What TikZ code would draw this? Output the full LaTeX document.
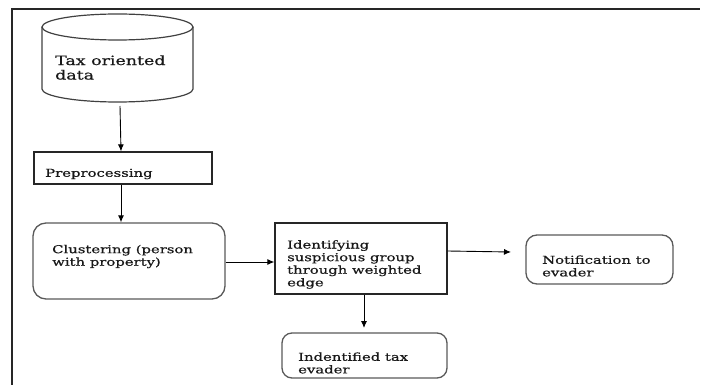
\documentclass[tikz,border=0pt]{standalone}
\usepackage{fontspec}
\setmainfont{DejaVu Serif}[FakeStretch=1.36,FakeBold=0.7]
\usetikzlibrary{arrows.meta}
\begin{document}
\begin{tikzpicture}[x=1pt,y=-1pt,
  box/.style={draw=black!85,line width=1.3pt,minimum width=#1,inner sep=0pt},
  rbox/.style={draw=black!65,line width=1.3pt,rounded corners=11pt,inner sep=0pt},
  txt/.style={inner sep=0pt,anchor=west,align=left,text=black!90,font=\fontsize{10.9}{12.6}\selectfont},
  arr/.style={line width=0.9pt,-{Latex[length=7pt,width=6pt]}}]
\useasboundingbox (0,0) rectangle (710,385);
% frame
\draw[line width=1.4pt,black!85] (12,385) -- (12,9) -- (700,9);
% cylinder
\node[minimum width=151pt,minimum height=88pt,inner sep=0pt] (cyl) at (117.5,58) {};
\draw[line width=1.2pt,black!75] (117.5,27) ellipse [x radius=75.5,y radius=13];
\draw[line width=1.2pt,black!75] (42,27) -- (42,89) arc[start angle=180,end angle=360,x radius=75.5,y radius=-13] -- (193,27);
\node[txt,font=\fontsize{12.8}{14.5}\selectfont] (t0) at (55,67.5) {Tax oriented\\data};
\coordinate (c0) at (120,106);
% boxes
\node[box=178pt,minimum height=32pt] (pre) at (123,168) {};
\node[txt] (t1) at (45,174) {Preprocessing};
\node[rbox,minimum width=192pt,minimum height=76pt,rounded corners=13pt] (clu) at (129,261) {};
\node[txt] (t2) at (52,256.5) {Clustering (person\\with property)};
\node[box=172pt,minimum height=71pt] (idf) at (361,258.5) {};
\node[txt] (t3) at (287,264.5) {Identifying\\suspicious group\\through weighted\\edge};
\node[rbox,minimum width=147pt,minimum height=49pt] (noti) at (599.5,259.5) {};
\node[txt] (t4) at (542,266) {Notification to\\evader};
\node[rbox,minimum width=165pt,minimum height=45pt,rounded corners=10pt] (ind) at (364.5,355.5) {};
\node[txt] (t5) at (298,363) {Indentified tax\\evader};
% arrows
\draw[arr] (c0) -- (pre.north -| 121,0);
\draw[arr] (pre.south -| 121,0) -- (clu.north -| 121,0);
\draw[arr] (clu.east |- 0,262) -- (idf.west |- 0,262);
\draw[arr] (idf.east |- 0,251) -- (511,252);
\draw[arr] (idf.south -| 364,0) -- (364,328);
\end{tikzpicture}
\end{document}
